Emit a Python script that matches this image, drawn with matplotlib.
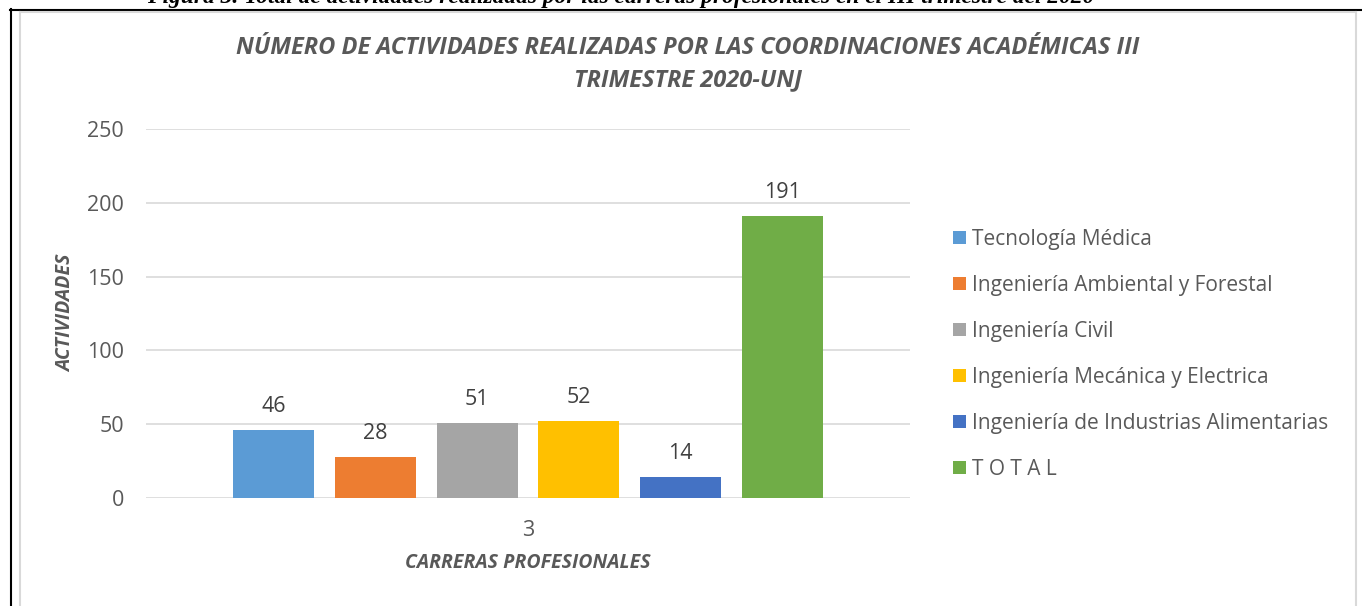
import matplotlib
matplotlib.use("Agg")
import matplotlib.pyplot as plt
from matplotlib.lines import Line2D

# data
carreras = ["Tecnología Médica", "Ingeniería Ambiental y Forestal", "Ingeniería Civil",
            "Ingeniería Mecánica y Electrica", "Ingeniería de Industrias Alimentarias", "T O T A L"]
actividades = [46, 28, 51, 52, 14, 191]
colores = ["#5B9BD5", "#ED7D31", "#A5A5A5", "#FFC000", "#4472C4", "#70AD47"]
categoria = "3"
yticks = [0, 50, 100, 150, 200, 250]

plt.rcParams['font.family'] = ['Open Sans', 'DejaVu Sans']
gris = "#595959"

W, H = 1362, 606
fig = plt.figure(figsize=(W / 100, H / 100), dpi=100)
fig.patch.set_facecolor("white")

def fx(px):
    return px / W

def fy(py):
    return (H - py) / H

ax = fig.add_axes([fx(146), fy(498), fx(910) - fx(146), fy(129) - fy(498)])

step = 0.1333
width = 0.106
for i, (nombre, val, col) in enumerate(zip(carreras, actividades, colores)):
    xpos = (i - 2.5) * step
    ax.bar(xpos, val, width=width, color=col, label=nombre, zorder=3)
    ax.annotate(str(val), (xpos, val), xytext=(0, 17), textcoords="offset points",
                ha="center", va="center", fontsize=15.5, color="#404040")

ax.set_xlim(-0.5, 0.5)
ax.set_ylim(0, 250)
ax.set_yticks(yticks)
ax.set_xticks([0])
ax.set_xticklabels([categoria])
ax.tick_params(axis="both", length=0, labelsize=15.5, labelcolor=gris)
ax.tick_params(axis="y", pad=16)
ax.tick_params(axis="x", pad=16)
ax.grid(axis="y", color="#D9D9D9", linewidth=1.2, zorder=0)
for s in ax.spines.values():
    s.set_visible(False)

# titles
fig.text(fx(688), fy(48), "NÚMERO DE ACTIVIDADES REALIZADAS POR LAS COORDINACIONES ACADÉMICAS III",
         ha="center", va="center", fontsize=17, fontweight="bold", fontstyle="italic", color=gris)
fig.text(fx(688), fy(80), "TRIMESTRE 2020-UNJ",
         ha="center", va="center", fontsize=17, fontweight="bold", fontstyle="italic", color=gris)
fig.text(fx(528), fy(563), "CARRERAS PROFESIONALES", ha="center", va="center",
         fontsize=14, fontweight="bold", fontstyle="italic", color=gris)
fig.text(fx(66), fy(313), "ACTIVIDADES", ha="center", va="center", rotation=90,
         fontsize=14, fontweight="bold", fontstyle="italic", color=gris)

# caption cut at the top of the page
fig.text(fx(621), fy(3), "Figura 3. Total de actividades realizadas por las carreras profesionales en el III trimestre del 2020",
         ha="center", va="baseline", fontsize=16.8, fontweight="bold", fontstyle="italic",
         family="Liberation Serif", color="black")

leg = ax.legend(loc="center left", bbox_to_anchor=(fx(953), fy(354.5)),
                bbox_transform=fig.transFigure, frameon=False, fontsize=15,
                handlelength=0.62, handleheight=0.62, handletextpad=0.3,
                labelspacing=1.2, borderpad=0, borderaxespad=0)
for t in leg.get_texts():
    t.set_color(gris)

# page borders
fig.add_artist(Line2D([fx(11), fx(11)], [fy(9), fy(606)], color="black", linewidth=1.5))
fig.add_artist(Line2D([fx(10), fx(1362)], [fy(9.5), fy(9.5)], color="black", linewidth=1.5))
fig.add_artist(Line2D([fx(19.5), fx(19.5)], [fy(11.5), fy(606)], color="#D9D9D9", linewidth=1.5))
fig.add_artist(Line2D([fx(19.5), fx(1356)], [fy(11.5), fy(11.5)], color="#D9D9D9", linewidth=1.5))
fig.add_artist(Line2D([fx(1356), fx(1356)], [fy(11.5), fy(606)], color="#D9D9D9", linewidth=1.5))

fig.savefig("out.png", dpi=100)
